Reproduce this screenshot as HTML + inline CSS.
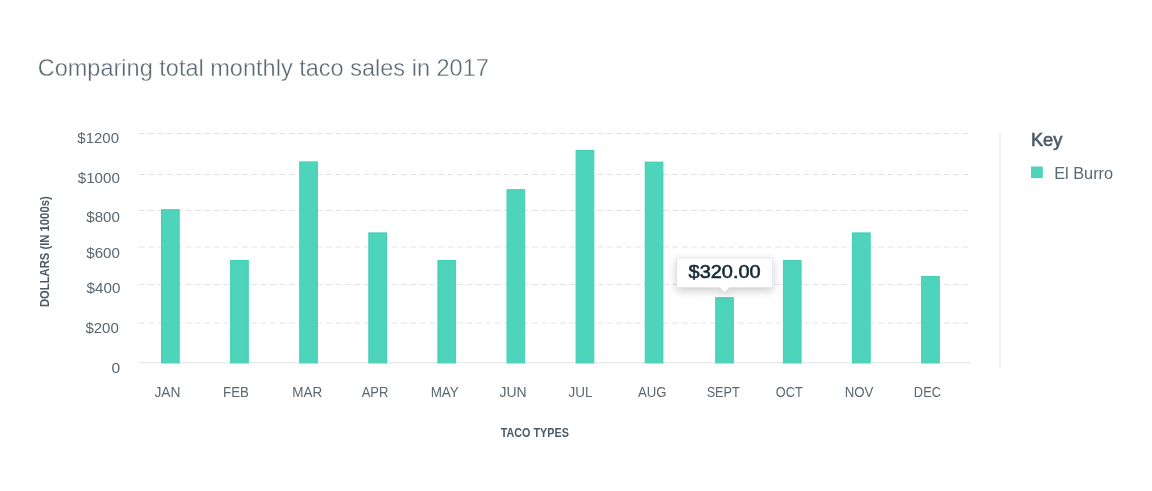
<!DOCTYPE html>
<html>
<head>
<meta charset="utf-8">
<style>
html,body{margin:0;padding:0;background:#fff;width:1152px;height:491px;overflow:hidden}
svg{display:block;will-change:transform}
text{font-family:"Liberation Sans",Arial,sans-serif}
.grid{stroke:#dfe3e6;stroke-width:1;stroke-dasharray:5.8 3.56;fill:none}
.bar{fill:#4dd4bb;stroke:#42d0b6;stroke-width:1}
</style>
</head>
<body>
<svg width="1152" height="491" viewBox="0 0 1152 491">
<defs>
<filter id="sh" x="-30%" y="-50%" width="160%" height="220%">
<feDropShadow dx="0" dy="3" stdDeviation="4.5" flood-color="#000" flood-opacity="0.2"/>
</filter>
</defs>
<rect width="1152" height="491" fill="#ffffff"/>

<g class="grid">
<line x1="138.9" y1="133.5" x2="971" y2="133.5"/>
<line x1="138.9" y1="174.5" x2="971" y2="174.5"/>
<line x1="138.9" y1="210.5" x2="971" y2="210.5"/>
<line x1="138.9" y1="247.0" x2="971" y2="247.0"/>
<line x1="138.9" y1="284.5" x2="971" y2="284.5"/>
<line x1="138.9" y1="323.0" x2="971" y2="323.0"/>
</g>
<line x1="139" y1="362.75" x2="971" y2="362.75" stroke="#dfe3e6" stroke-width="1.1"/>
<g class="bar">
<rect x="161.50" y="209.70" width="17.7" height="153.20"/>
<rect x="230.60" y="260.50" width="17.7" height="102.40"/>
<rect x="299.70" y="161.90" width="17.7" height="201.00"/>
<rect x="368.80" y="232.90" width="17.7" height="130.00"/>
<rect x="437.90" y="260.50" width="17.7" height="102.40"/>
<rect x="507.00" y="189.70" width="17.7" height="173.20"/>
<rect x="576.10" y="150.50" width="17.7" height="212.40"/>
<rect x="645.20" y="162.10" width="17.7" height="200.80"/>
<rect x="715.70" y="297.70" width="17.7" height="65.20"/>
<rect x="783.40" y="260.50" width="17.7" height="102.40"/>
<rect x="852.50" y="232.90" width="17.7" height="130.00"/>
<rect x="921.60" y="276.50" width="17.7" height="86.40"/>
</g>
<text transform="translate(49.2 251.7) rotate(-90)" text-anchor="middle" font-size="12" font-weight="700" fill="#4a5a66" textLength="110.7" lengthAdjust="spacingAndGlyphs">DOLLARS (IN 1000s)</text>
<line x1="1000" y1="133" x2="1000" y2="368.3" stroke="#dfe3e6" stroke-width="1"/>
<rect x="1031" y="166.5" width="11.8" height="11.6" fill="#4dd4bb"/>
<g filter="url(#sh)">
<path d="M676.5 258 H772.6 V287.5 H729.5 L724.6 292.4 L719.7 287.5 H676.5 Z" fill="#fff" stroke="#dfe3e6" stroke-width="1"/>
</g>
<text x="37.66" y="75.5" font-size="24" font-weight="400" fill="#5a6872" textLength="451.19" lengthAdjust="spacingAndGlyphs" stroke="#fff" stroke-width="0.35">Comparing total monthly taco sales in 2017</text>
<text x="77.33" y="142.8" font-size="14" font-weight="400" fill="#5a6872" textLength="41.64" lengthAdjust="spacingAndGlyphs" >$1200</text>
<text x="77.77" y="183.0" font-size="14" font-weight="400" fill="#5a6872" textLength="42.10" lengthAdjust="spacingAndGlyphs" >$1000</text>
<text x="86.30" y="221.8" font-size="14" font-weight="400" fill="#5a6872" textLength="33.66" lengthAdjust="spacingAndGlyphs" >$800</text>
<text x="86.30" y="257.7" font-size="14" font-weight="400" fill="#5a6872" textLength="33.66" lengthAdjust="spacingAndGlyphs" >$600</text>
<text x="86.56" y="292.8" font-size="14" font-weight="400" fill="#5a6872" textLength="33.80" lengthAdjust="spacingAndGlyphs" >$400</text>
<text x="85.46" y="333.4" font-size="14" font-weight="400" fill="#5a6872" textLength="33.35" lengthAdjust="spacingAndGlyphs" >$200</text>
<text x="111.64" y="372.75" font-size="14" font-weight="400" fill="#5a6872" textLength="8.69" lengthAdjust="spacingAndGlyphs" >0</text>
<text x="1030.91" y="145.7" font-size="18" font-weight="400" fill="#4a5b67" textLength="31.49" lengthAdjust="spacingAndGlyphs" stroke="#4a5b67" stroke-width="0.6">Key</text>
<text x="1054.20" y="178.75" font-size="16" font-weight="400" fill="#5a6872" textLength="58.92" lengthAdjust="spacingAndGlyphs" >El Burro</text>
<text x="688.54" y="278.2" font-size="18" font-weight="400" fill="#152935" textLength="72.15" lengthAdjust="spacingAndGlyphs" stroke="#152935" stroke-width="0.55">$320.00</text>
<text x="500.78" y="436.6" font-size="12" font-weight="700" fill="#4a5a66" textLength="68.09" lengthAdjust="spacingAndGlyphs" >TACO TYPES</text>
<text x="154.43" y="397.3" font-size="14" font-weight="400" fill="#5a6872" textLength="26.03" lengthAdjust="spacingAndGlyphs" >JAN</text>
<text x="223.09" y="397.3" font-size="14" font-weight="400" fill="#5a6872" textLength="25.82" lengthAdjust="spacingAndGlyphs" >FEB</text>
<text x="292.24" y="397.3" font-size="14" font-weight="400" fill="#5a6872" textLength="29.99" lengthAdjust="spacingAndGlyphs" >MAR</text>
<text x="361.65" y="397.3" font-size="14" font-weight="400" fill="#5a6872" textLength="26.81" lengthAdjust="spacingAndGlyphs" >APR</text>
<text x="430.64" y="397.3" font-size="14" font-weight="400" fill="#5a6872" textLength="28.19" lengthAdjust="spacingAndGlyphs" >MAY</text>
<text x="499.52" y="397.3" font-size="14" font-weight="400" fill="#5a6872" textLength="27.16" lengthAdjust="spacingAndGlyphs" >JUN</text>
<text x="568.48" y="397.3" font-size="14" font-weight="400" fill="#5a6872" textLength="23.99" lengthAdjust="spacingAndGlyphs" >JUL</text>
<text x="637.99" y="397.3" font-size="14" font-weight="400" fill="#5a6872" textLength="28.56" lengthAdjust="spacingAndGlyphs" >AUG</text>
<text x="706.63" y="397.3" font-size="14" font-weight="400" fill="#5a6872" textLength="33.23" lengthAdjust="spacingAndGlyphs" >SEPT</text>
<text x="775.87" y="397.3" font-size="14" font-weight="400" fill="#5a6872" textLength="26.78" lengthAdjust="spacingAndGlyphs" >OCT</text>
<text x="844.73" y="397.3" font-size="14" font-weight="400" fill="#5a6872" textLength="28.66" lengthAdjust="spacingAndGlyphs" >NOV</text>
<text x="913.87" y="397.3" font-size="14" font-weight="400" fill="#5a6872" textLength="27.11" lengthAdjust="spacingAndGlyphs" >DEC</text>
</svg>
</body>
</html>
